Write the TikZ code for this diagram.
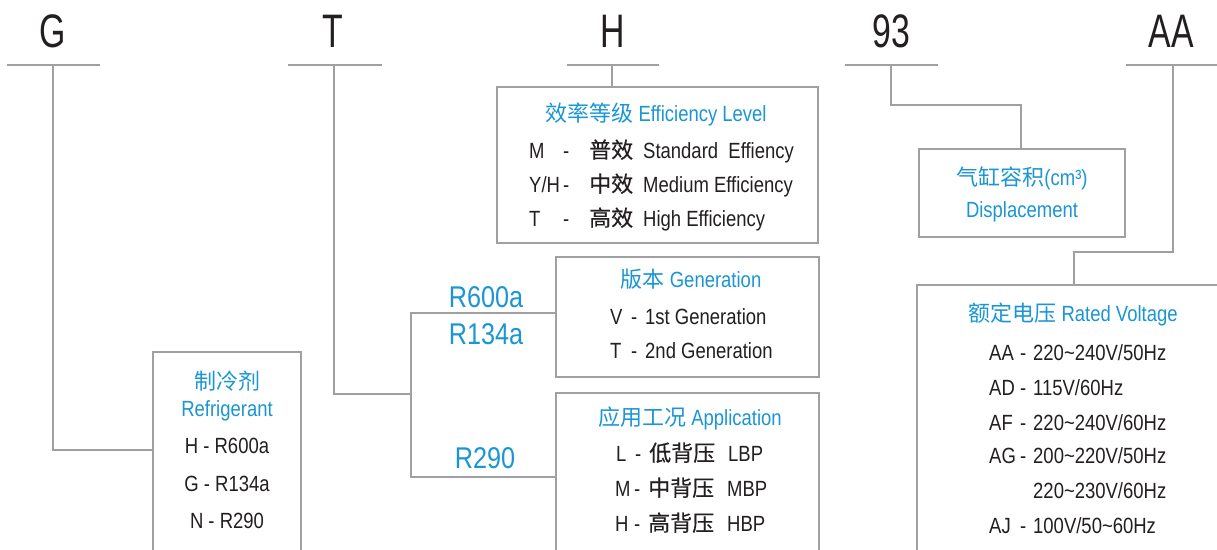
\documentclass[tikz,border=0pt]{standalone}
\usepackage{fontspec}
\setmainfont{Liberation Sans}[FakeStretch=0.84]
\newfontfamily\bigf{Liberation Sans}[FakeStretch=0.72]
\newfontfamily\cjk{Noto Sans CJK SC}
\newfontfamily\cjkm{Noto Sans CJK SC}[FakeBold=0.35]
\definecolor{lnc}{HTML}{A0A0A2}
\definecolor{blu}{HTML}{1A96D4}
\definecolor{txt}{HTML}{231F20}
\tikzset{
 ln/.style={draw=lnc, line width=1.8pt},
 box/.style={draw=lnc, line width=1.8pt, rectangle, inner sep=0pt},
 big/.style={font=\bigf\fontsize{47}{50}\selectfont, text=txt, inner sep=0pt, anchor=base},
 ttl/.style={font=\fontsize{22}{26}\selectfont, text=blu, inner sep=0pt, anchor=base},
 row/.style={font=\fontsize{22}{26}\selectfont, text=txt, inner sep=0pt, anchor=base west},
 rowc/.style={font=\fontsize{22}{26}\selectfont, text=txt, inner sep=0pt, anchor=base},
 reflbl/.style={font=\fontsize{30}{34}\selectfont, text=blu, inner sep=0pt, anchor=base},
}
\newcommand\effrow[3]{\makebox[34pt][l]{#1}\makebox[26pt][l]{-}\makebox[54pt][l]{\cjkm #2}#3}
\newcommand\genrow[2]{\makebox[21pt][l]{#1}\makebox[14pt][l]{-}#2}
\newcommand\approw[3]{\makebox[19pt][l]{#1}\makebox[14pt][l]{-}\makebox[79pt][l]{\cjkm #2}#3}
\newcommand\vrow[2]{\makebox[31pt][l]{#1}\makebox[13pt][l]{-}#2}
\newcommand\tl{\textasciitilde}
\begin{document}
\begin{tikzpicture}[x=1pt,y=-1pt]
\useasboundingbox (0,0) rectangle (1217,549);
\fill[white] (0,0) rectangle (1217,549);
\clip (0,0) rectangle (1217,549);

% top letters
\node[big] (lG) at (53,47) {G};
\node[big] (lT) at (333,47) {T};
\node[big] (lH) at (613,47) {H};
\node[big] (l93) at (891,47) {93};
\node[big] (lAA) at (1171,47) {AA};

% underlines
\coordinate (uG) at (53,65);
\coordinate (uT) at (334,65);
\coordinate (uH) at (612,65);
\coordinate (u93) at (891,65);
\coordinate (uAA) at (1173,65);
\draw[ln] (7,65) -- (100,65);
\draw[ln] (288,65) -- (382,65);
\draw[ln] (567,65) -- (659,65);
\draw[ln] (845,65) -- (938,65);
\draw[ln] (1126,65) -- (1220,65);

% boxes
\node[box, minimum width=148pt, minimum height=250pt] (bR) at (227,477) {};
\node[box, minimum width=321pt, minimum height=156pt] (bE) at (657.5,165) {};
\node[box, minimum width=263pt, minimum height=120pt] (bG) at (687.5,317) {};
\node[box, minimum width=263pt, minimum height=200pt] (bA) at (687.5,493) {};
\node[box, minimum width=206pt, minimum height=88pt] (bD) at (1022,193) {};
\node[box, minimum width=384pt, minimum height=300pt] (bV) at (1109,435) {};

% connectors
\coordinate (jG) at (153,450);
\draw[ln] (uG) |- (jG);
\coordinate (tj) at (411,394);
\coordinate (tt) at (411,313);
\coordinate (tb) at (411,477);
\draw[ln] (uT) |- (tj);
\draw[ln] (tt -| bG.west) -- (tt) -- (tb) -- (tb -| bA.west);
\draw[ln] (uH) -- (uH |- bE.north);
\coordinate (k93) at (1021,105);
\draw[ln] (u93) |- (k93) -- (k93 |- bD.north);
\coordinate (kAA) at (1074,252);
\draw[ln] (uAA) |- (kAA) -- (kAA |- bV.north);

% refrigerant labels on branch
\node[reflbl] (r1) at (486,307) {R600a};
\node[reflbl] (r2) at (486,344) {R134a};
\node[reflbl] (r3) at (485,468) {R290};

% refrigerant box
\node[ttl] (tR1) at (227,389) {\cjk 制冷剂};
\node[ttl] (tR2) at (227,416) {Refrigerant};
\node[rowc] (rR1) at (227,453) {H - R600a};
\node[rowc] (rR2) at (227,491) {G - R134a};
\node[rowc] (rR3) at (227,528) {N - R290};

% efficiency box
\node[ttl] (tE) at (656,121) {{\cjk 效率等级} Efficiency Level};
\node[row] (e1) at (529,158) {\effrow{M}{普效}{Standard\ \ Effiency}};
\node[row] (e2) at (529,192) {\effrow{Y/H}{中效}{Medium Efficiency}};
\node[row] (e3) at (529,226) {\effrow{T}{高效}{High Efficiency}};

% generation box
\node[ttl] (tG) at (691,287) {{\cjk 版本} Generation};
\node[row] (g1) at (610,324) {\genrow{V}{1st Generation}};
\node[row] (g2) at (610,358) {\genrow{T}{2nd Generation}};

% application box
\node[ttl] (tA) at (690,425) {{\cjk 应用工况} Application};
\node[row] (a1) at (616,461) {\approw{L}{低背压}{LBP}};
\node[row] (a2) at (615,496) {\approw{M}{中背压}{MBP}};
\node[row] (a3) at (615,531) {\approw{H}{高背压}{HBP}};

% displacement box
\node[ttl] (tD1) at (1022,185) {{\cjk 气缸容积}(cm³)};
\node[ttl] (tD2) at (1022,217) {Displacement};

% rated voltage box
\node[ttl] (tV) at (1073,321) {{\cjk 额定电压} Rated Voltage};
\node[row] (v1) at (989,360) {\vrow{AA}{220\tl240V/50Hz}};
\node[row] (v2) at (989,395) {\vrow{AD}{115V/60Hz}};
\node[row] (v3) at (989,430) {\vrow{AF}{220\tl240V/60Hz}};
\node[row] (v4) at (989,463) {\vrow{AG}{200\tl220V/50Hz}};
\node[row] (v5) at (1033,498) {220\tl230V/60Hz};
\node[row] (v6) at (989,533) {\vrow{AJ}{100V/50\tl60Hz}};
\end{tikzpicture}
\end{document}
